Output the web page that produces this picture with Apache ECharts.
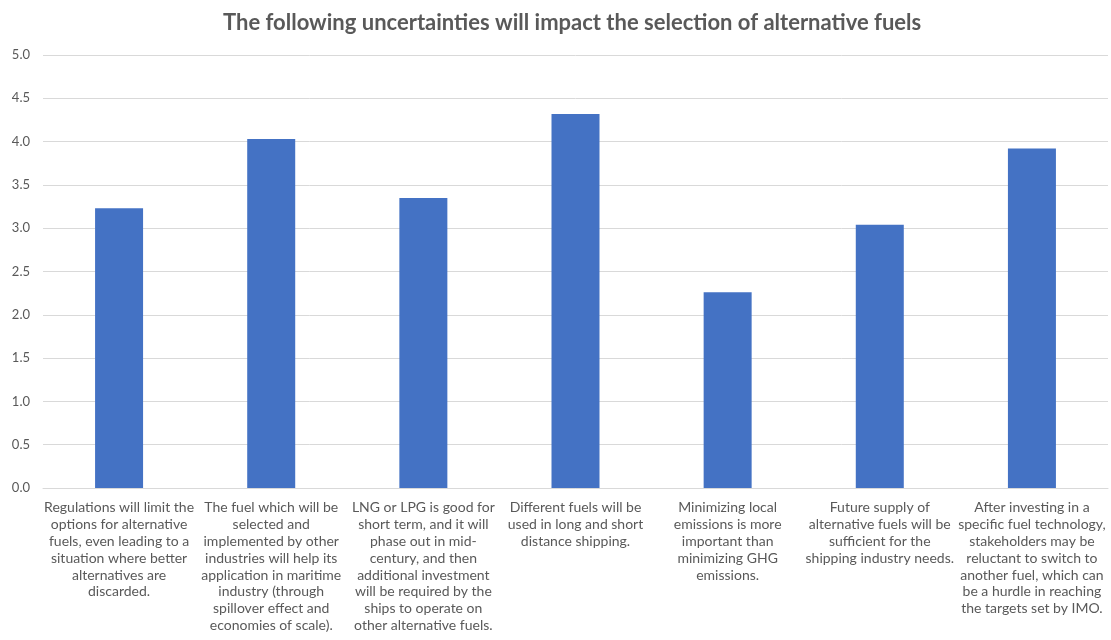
<!DOCTYPE html>
<html>
<head>
<meta charset="utf-8">
<script src="https://cdn.jsdelivr.net/npm/echarts@6/dist/echarts.min.js"></script>
<style>
  html, body { margin: 0; padding: 0; background: #fff; }
  #main { width: 1111px; height: 640px; }
</style>
</head>
<body>
<div id="main"></div>
<script>
// categories (wrapped as in the reference)
var categories = [
  'Regulations will limit the\noptions for alternative\nfuels, even leading to a\nsituation where better\nalternatives are\ndiscarded.',
  'The fuel which will be\nselected and\nimplemented by other\nindustries will help its\napplication in maritime\nindustry (through\nspillover effect and\neconomies of scale).',
  'LNG or LPG is good for\nshort term, and it will\nphase out in mid-\ncentury, and then\nadditional investment\nwill be required by the\nships to operate on\nother alternative fuels.',
  'Different fuels will be\nused in long and short\ndistance shipping.',
  'Minimizing local\nemissions is more\nimportant than\nminimizing GHG\nemissions.',
  'Future supply of\nalternative fuels will be\nsufficient for the\nshipping industry needs.',
  'After investing in a\nspecific fuel technology,\nstakeholders may be\nreluctant to switch to\nanother fuel, which can\nbe a hurdle in reaching\nthe targets set by IMO.'
];
var scores = [3.23, 4.03, 3.35, 4.32, 2.26, 3.04, 3.92];

var font = 'Lato, "Open Sans", sans-serif';
var myChart = echarts.init(document.getElementById('main'));

var option = {
  animation: false,
  title: {
    text: 'The following uncertainties will impact the selection of alternative fuels',
    left: 218,
    top: 7,
    textStyle: { fontFamily: font, fontSize: 22, fontWeight: 'bold', color: '#595959' }
  },
  grid: { left: 43, right: 3, top: 55, bottom: 152 },
  xAxis: {
    type: 'category',
    data: categories,
    axisLine: { lineStyle: { color: '#d9d9d9' } },
    axisTick: { show: false },
    axisLabel: {
      interval: 0,
      margin: 11,
      fontFamily: font,
      fontSize: 14,
      lineHeight: 16.9,
      color: '#595959',
      align: 'center',
      verticalAlign: 'top'
    }
  },
  yAxis: {
    type: 'value',
    min: 0,
    max: 5,
    interval: 0.5,
    axisLine: { show: false },
    axisTick: { show: false },
    splitLine: { lineStyle: { color: '#d9d9d9', width: 1 } },
    axisLabel: {
      margin: 13,
      fontFamily: font,
      fontSize: 13,
      color: '#595959',
      formatter: function (v) { return v.toFixed(1); }
    }
  },
  series: [{
    type: 'bar',
    data: scores,
    barWidth: 48,
    itemStyle: { color: '#4472C4' }
  }]
};

myChart.setOption(option);
</script>
</body>
</html>
